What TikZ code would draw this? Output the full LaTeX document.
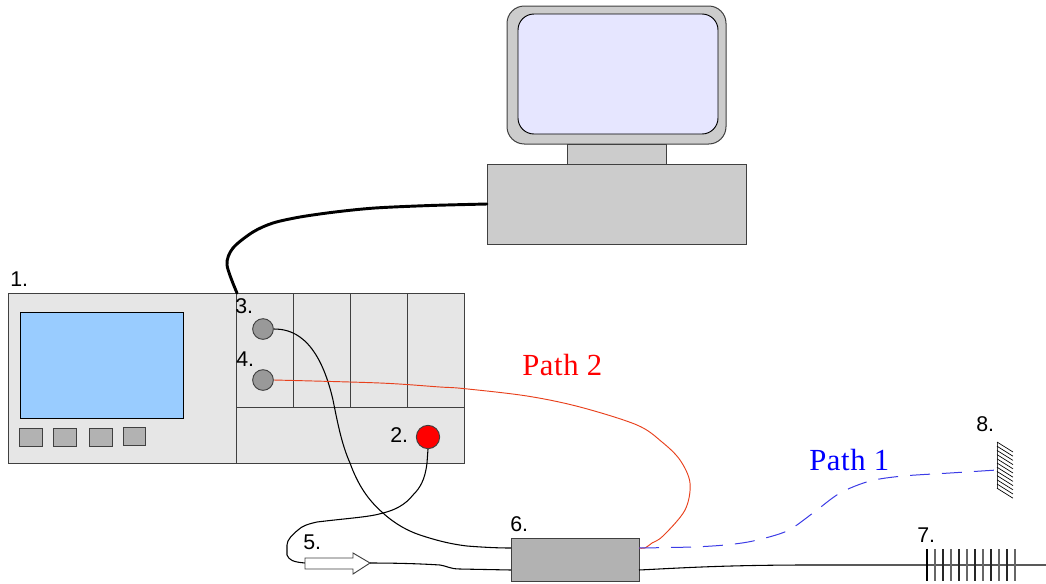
\documentclass[tikz,border=0pt]{standalone}
\usepackage{fontspec}
\setmainfont{Liberation Sans}
\newfontfamily\pathfont[LetterSpace=2]{Liberation Serif}
\definecolor{cgray}{HTML}{CCCCCC}
\definecolor{scr}{HTML}{E6E6FF}
\definecolor{lgray}{HTML}{E6E6E6}
\definecolor{sblue}{HTML}{99CCFF}
\definecolor{bgray}{HTML}{B2B2B2}
\definecolor{kgray}{HTML}{999999}
\definecolor{pathred}{HTML}{E8401C}
\definecolor{pathblue}{HTML}{3C3CE6}
\usetikzlibrary{calc}
\tikzset{
  part/.style={draw=black!75, line width=0.75pt},
  lab/.style={inner sep=0pt, font=\fontsize{16}{16}\selectfont},
  pathlab/.style={inner sep=0pt, font=\pathfont\fontsize{23}{23}\selectfont},
  knob/.style={circle, draw=black!75, line width=0.7pt, fill=kgray, inner sep=0pt, minimum size=15.5pt},
  btn/.style={draw=black!75, line width=0.7pt, fill=bgray},
  fibre/.style={line width=0.8pt, black},
}
\begin{document}
\begin{tikzpicture}[x=0.75pt,y=-0.75pt]
\useasboundingbox (0,0) rectangle (1046,583);
% computer
\draw[part, fill=cgray, rounded corners=13] (507,6) rectangle (726,144);
\draw[black, line width=0.7pt, fill=scr, rounded corners=12] (518,14) rectangle (718,134);
\draw[part, fill=cgray] (567,144) rectangle (666,164);
\node[part, fill=cgray, minimum width=194pt, minimum height=60pt, inner sep=0pt, anchor=north west] (pc) at (487,164) {};
% instrument
\node[part, fill=lgray, minimum width=342pt, minimum height=127.5pt, inner sep=0pt, anchor=north west] (inst) at (8,293) {};
\draw[part] (236,293) -- (236,463);
\draw[part] (236,407) -- (464,407);
\foreach \x in {293,350,407} \draw[part] (\x,293) -- (\x,407);
\draw[black, line width=0.6pt, fill=sblue] (20.5,312.5) rectangle (183,418);
\draw[btn] (19,428) rectangle (42,446);
\draw[btn] (53,428) rectangle (76,446);
\draw[btn] (89,428) rectangle (112,446);
\draw[btn] (123,427) rectangle (145,445);
\node[knob] (k3) at (263,329) {};
\node[knob] (k4) at (263,380) {};
\node[knob, fill=red, minimum size=17.5pt] (k2) at (428,437) {};
% box 6
\node[part, fill=bgray, minimum width=96pt, minimum height=32.5pt, inner sep=0pt, anchor=north west] (six) at (511,538) {};
% coordinates
\coordinate (mirror) at (997,470);
\coordinate (fend) at (1046,565);
\coordinate (sixA) at (511,548);
\coordinate (sixB) at (511,570);
\coordinate (sixC) at (639,570);
\coordinate (sixD) at (639,548);
\coordinate (pcw) at (487,204);
\coordinate (instc) at (237,293);
% thick cable
\draw[line width=2.2pt, black, line cap=round] plot[smooth, tension=0.5] coordinates {(pcw) (430,205.5) (375,208) (335,212) (300,217) (273,223) (253,232) (233,248) (227,265) (instc)};
% cable 3 to 6
\draw[fibre] (k3.east) .. controls (290,329) and (318,335) .. (333,400)
  .. controls (338,425) and (342,445) .. (350,463)
  .. controls (358,485) and (368,500) .. (383,513)
  .. controls (395,524) and (408,531) .. (420,535)
  .. controls (435,540) and (450,544) .. (467,546)
  .. controls (480,547) and (495,548) .. (sixA);
% cable 2 to 5
\coordinate (arrowtail) at (305,563);
\draw[fibre] (k2.south) -- (427,463) .. controls (425,480) and (420,488) .. (413,495)
  .. controls (405,505) and (395,510) .. (383,513)
  .. controls (370,517) and (350,518) .. (317,522)
  .. controls (308,524) and (302,526) .. (298,530)
  .. controls (292,535) and (287,540) .. (287,545)
  -- (287,555) .. controls (289,560) and (293,562) .. (arrowtail);
% arrow 5
\draw[draw=black!75, line width=0.7pt, fill=white] (305,558) -- (353,558) -- (353,553) -- (370,563) -- (353,574) -- (353,569) -- (305,569) -- cycle;
\coordinate (arrowtip) at (370,563);
\draw[fibre] (arrowtip) .. controls (400,563) and (425,564) .. (440,565)
  .. controls (447,566) and (450,569) .. (460,569) -- (sixB);
% output fibre
\draw[fibre] (sixC) .. controls (680,568) and (720,565.3) .. (800,565) -- (fend);
% grating
\foreach \i/\c in {0/black,1/black!60,2/black!85,3/black!60,4/black!85,5/black!60,6/black!85,7/black!60,8/black!85,9/black!60,10/black!85,11/black!60}
  \draw[\c, line width=0.8pt] (927+\i*8,549) -- (927+\i*8,581);
% mirror
\draw[black!75, line width=0.7pt] (997,442) -- (997,489);
\foreach \y in {0,...,11}
  \draw[black, line width=0.5pt] ($(997,442)+(0,\y*4.2)$) -- ++(16,10);
% red path
\draw[pathred, line width=0.7pt] plot[smooth, tension=0.55] coordinates {(k4.east) (380,383) (440,387) (463,388.5) (527,396) (580,407) (637,425) (662,442) (680,460) (690,483) (685,510) (663,536) (652,543) (645,548) (sixD)};
% blue path
\draw[pathblue, line width=0.75pt, dash pattern=on 15pt off 9pt] plot[smooth, tension=0.5] coordinates {(sixD) (692,547) (725,545) (753,541) (787,531) (813,513) (840,493) (870,481) (903,476) (950,473) (mirror)};
% labels
\node[lab, anchor=west] (l1) at (10,279) {1.};
\node[lab, anchor=west] (l3) at (235,306) {3.};
\node[lab, anchor=west] (l4) at (236,359) {4.};
\node[lab, anchor=west] (l2) at (390,435) {2.};
\node[lab, anchor=west] (l5) at (303,542) {5.};
\node[lab, anchor=west] (l6) at (510,524) {6.};
\node[lab, anchor=west] (l7) at (917,535) {7.};
\node[lab, anchor=west] (l8) at (976,424) {8.};
\node[pathlab, red, anchor=west] (p2) at (522,365) {Path 2};
\node[pathlab, blue, anchor=west] (p1) at (809,460) {Path 1};
\end{tikzpicture}
\end{document}
